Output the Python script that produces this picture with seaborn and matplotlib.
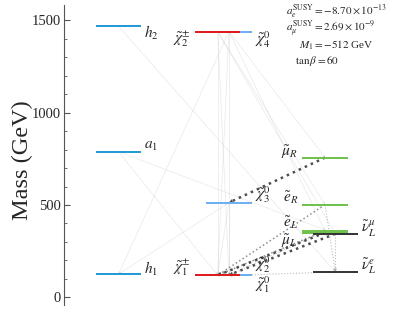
import matplotlib
matplotlib.use("Agg")
import matplotlib.pyplot as plt
import seaborn as sns

# particle spectrum, masses in GeV
names = ["n1", "n2", "n3", "n4", "c1", "c2", "h1", "a1", "h2",
         "eL", "muL", "eR", "muR", "snmu", "sne"]
masses = [118, 121, 513, 1440, 119, 1440, 125, 789, 1469,
          360, 350, 502, 757, 344, 137]
groups = ["neut", "neut", "neut", "neut", "char", "char", "higgs", "higgs", "higgs",
          "slep", "slep", "slep", "slep", "snu", "snu"]
tex = [r"$\tilde{\chi}_1^0$", r"$\tilde{\chi}_2^0$", r"$\tilde{\chi}_3^0$", r"$\tilde{\chi}_4^0$",
       r"$\tilde{\chi}_1^{\pm}$", r"$\tilde{\chi}_2^{\pm}$", r"$h_1$", r"$a_1$", r"$h_2$",
       r"$\tilde{e}_L$", r"$\tilde{\mu}_L$", r"$\tilde{e}_R$", r"$\tilde{\mu}_R$",
       r"$\tilde{\nu}_L^{\mu}$", r"$\tilde{\nu}_L^{e}$"]
label_side = ["right", "right", "right", "right", "left", "left", "right", "right", "right",
              "left", "left", "left", "left", "right", "right"]
label_shift = [-52, 54, 42, -45, 42, -45, 31, 31, -36, 43, -45, 36, 31, 26, 30]

# decays: parent, child, style
decay_parent = ["h2", "a1", "a1", "n4", "c2", "n4", "c2", "n4", "c2", "n4", "n3", "n3", "n3", "c2", "n4",
                "muR", "eR", "eL", "eL", "muL", "snmu", "eR", "snmu", "sne"]
decay_child = ["sne", "snmu", "c1", "h1", "c1", "n1", "n2", "c1", "eR", "muR", "h1", "c1", "n1", "snmu", "eL",
               "n3", "c1", "c1", "n1", "c1", "n2", "sne", "sne", "n1"]
decay_style = ["faint"] * 15 + ["dark", "mid", "mid", "light", "dark", "dark", "light", "light", "light"]

column = {"higgs": 0.0, "char": 0.96, "neut": 1.07, "slep": 2.0, "snu": 2.1}
colors = {"higgs": "#1f98d6", "char": "#e0161b", "neut": "#6aaef0",
          "slep": "#6cc04a", "snu": "#333333"}
styles = {"faint": dict(color="#c8c8c8", lw=0.5, ls="-", alpha=0.4, ms=5),
          "light": dict(color="#aaaaaa", lw=0.8, ls=":", alpha=0.8, ms=6),
          "mid": dict(color="#808080", lw=1.1, ls=":", alpha=0.9, ms=6),
          "dark": dict(color="#444444", lw=1.8, ls=":", alpha=0.95, ms=7)}
half = 0.22

sns.set_style("ticks")
plt.rcParams["font.family"] = ["Liberation Serif", "DejaVu Serif"]
plt.rcParams["mathtext.fontset"] = "stix"

fig = plt.figure(figsize=(3.94, 3.19), dpi=100)
ax = fig.add_axes([64 / 394, 14 / 319, 330 / 394, 300 / 319])

pos = {n: (column[g], m) for n, g, m in zip(names, groups, masses)}

# decay lines
for p, c, s in zip(decay_parent, decay_child, decay_style):
    st = styles[s]
    (x0, y0), (x1, y1) = pos[p], pos[c]
    ax.plot([x0, x1], [y0, y1], color=st["color"], lw=st["lw"], ls=st["ls"],
            alpha=st["alpha"], zorder=1)
    ax.annotate("", xy=(x1, y1), xytext=(x0, y0),
                arrowprops=dict(arrowstyle="-|>", mutation_scale=st["ms"], lw=0,
                                color=st["color"], alpha=st["alpha"],
                                shrinkA=0, shrinkB=0), zorder=1)

# mass levels (neutralinos first so charginos sit on top)
order = ["neut", "higgs", "slep", "snu", "char"]
for g in order:
    for n, gg, m, t, side, dm in zip(names, groups, masses, tex, label_side, label_shift):
        if gg != g:
            continue
        x = column[g]
        ax.hlines(m, x - half, x + half, color=colors[g], lw=1.4, zorder=2)
        if side == "right":
            ax.text(x + half + 0.03, m + dm, t, ha="left", va="center", fontsize=11)
        else:
            ax.text(x - half - 0.04, m + dm, t, ha="right", va="center", fontsize=11)

ax.set_xlim(-0.528, 2.668)
ax.set_ylim(-42, 1584)
ax.set_xticks([])
ax.set_yticks([0, 500, 1000, 1500])
ax.set_yticks(range(0, 1600, 100), minor=True)
ax.tick_params(axis="y", which="major", direction="in", length=4, width=0.8,
               labelsize=10.5, pad=2, color="#555555")
ax.tick_params(axis="y", which="minor", direction="in", length=2.5, width=0.6,
               color="#555555")
sns.despine(ax=ax, bottom=True)
ax.spines["left"].set_color("#555555")
ax.set_ylabel("Mass (GeV)", fontsize=17.5)
ax.yaxis.set_label_coords(-0.093, 0.483)

# info box
info = [(r"$a_e^{\rm SUSY}=-8.70\times10^{-13}$", 286, 14.5),
        (r"$a_\mu^{\rm SUSY}=2.69\times10^{-9}$", 286, 31),
        (r"$M_1=-512$ GeV", 299, 48.5),
        (r"$\tan\beta=60$", 295, 64.5)]
for s, px, py in info:
    fig.text(px / 394, 1 - py / 319, s, ha="left", va="baseline", fontsize=8)

fig.savefig("out.png", dpi=100)
